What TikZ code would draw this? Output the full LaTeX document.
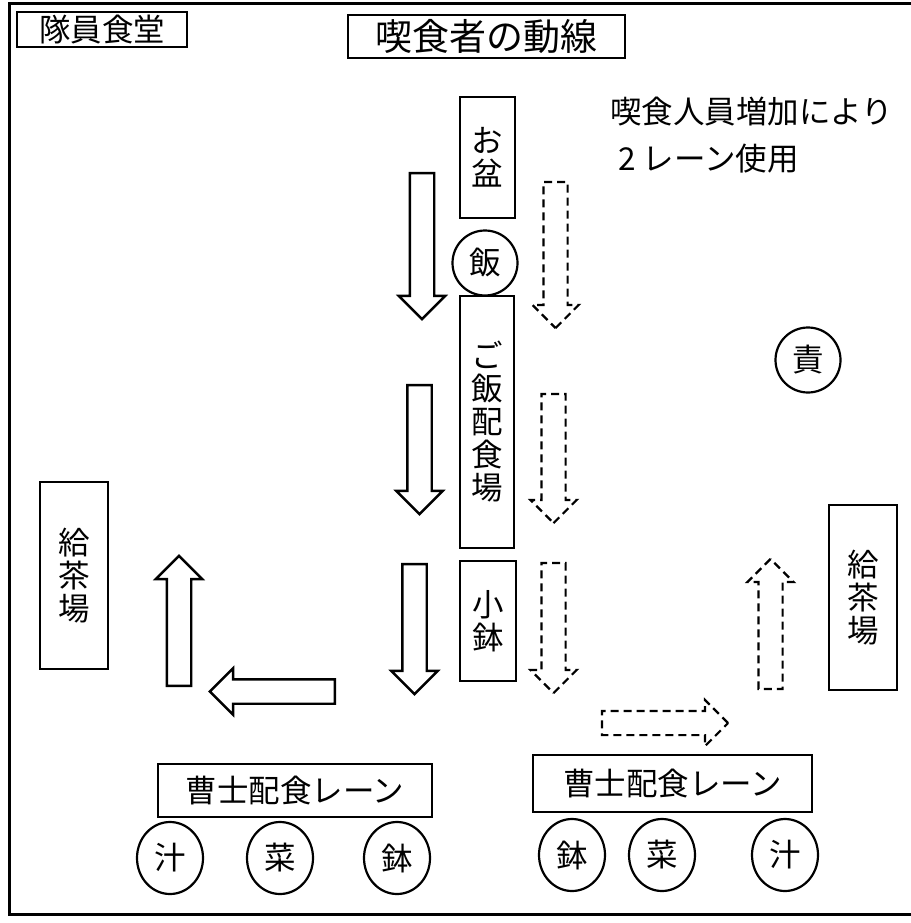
\documentclass[tikz,border=0pt]{standalone}
\usepackage{fontspec}
\setmainfont{Noto Sans CJK JP}
\usetikzlibrary{shapes.geometric,shapes.arrows}
\tikzstyle{labelbox}=[draw,rectangle,inner sep=0pt,line width=2.2pt,font=\fontsize{31.5}{33}\selectfont]
\tikzstyle{standbox}=[labelbox,align=center]
\tikzstyle{dish}=[draw,circle,inner sep=0pt,minimum size=65pt,line width=2.2pt,font=\fontsize{31.5}{33}\selectfont]
\tikzstyle{bowl}=[draw,ellipse,inner sep=0pt,minimum width=66pt,minimum height=72pt,line width=2.2pt,font=\fontsize{31.5}{33}\selectfont]
\tikzstyle{flow}=[single arrow,draw,fill=white,inner xsep=0pt,inner ysep=11pt,
  single arrow head extend=11pt,single arrow tip angle=90,minimum width=44pt,line width=2.4pt]
\tikzstyle{flow2}=[flow,line width=2.2pt,dash pattern=on 8pt off 5pt]

\begin{document}
\begin{tikzpicture}[x=1pt,y=-1pt]
\useasboundingbox (0,0) rectangle (910,923);
\draw[line width=3pt] (9,4) rectangle (940,914);
% titles
\node[labelbox,minimum width=170pt,minimum height=35pt] (hall) at (102,29.5) {隊員食堂};
\node[labelbox,minimum width=277pt,minimum height=43pt,font=\fontsize{37}{40}\selectfont] (title) at (486.5,36.5) {喫食者の動線\hspace{12pt}};
\node[align=left,anchor=north west,inner sep=0pt,font=\fontsize{31.5}{47}\selectfont] (note) at (610,97)
  {喫食人員増加により\\\hspace{8pt}2 レーン使用};
% serving stands
\foreach \place/\name/\w/\h/\txt in {{(487.5,157.5)/tray/55/121/お\\盆},
                                     {(487,422)/rice/54/252/ご\\飯\\配\\食\\場},
                                     {(488,621)/side/56/120/小\\鉢},
                                     {(74,575.5)/teaL/68/187/給\\茶\\場},
                                     {(863,597.5)/teaR/68/185/給\\茶\\場}}
  \node[standbox,minimum width=\w pt,minimum height=\h pt] (\name) at \place {\txt};
\node[labelbox,minimum width=274pt,minimum height=53pt] (laneL) at (295,790.5) {曹士配食レーン};
\node[labelbox,minimum width=279pt,minimum height=57pt] (laneR) at (672.5,783.5) {曹士配食レーン};
\node[dish] (meshi) at (485,263) {飯};
\node[dish] (chief) at (808,360) {責};
\foreach \place/\name/\txt in {{(170,858)/soupL/汁},
                               {(280,858)/mainL/菜},
                               {(397,858)/bowlL/鉢},
                               {(572,855)/bowlR/鉢},
                               {(662,855)/mainR/菜},
                               {(785,855)/soupR/汁}}
  \node[bowl] (\name) at \place {\txt};
% flow arrows
\foreach \place/\name/\len/\turn in {{(422,240)/downA/146/-90},
                                     {(419.5,443.5)/downB/129/-90},
                                     {(414.5,623)/downC/130/-90},
                                     {(278.5,691.5)/left/125/180},
                                     {(179,627)/up/130/90}}
  \node[flow,minimum height=\len pt,rotate=\turn] (\name) at \place {};
\foreach \place/\name/\len/\turn in {{(555.5,249)/downD/146/-90},
                                     {(553.5,452.5)/downE/129/-90},
                                     {(553.5,622)/downF/130/-90},
                                     {(659,723)/right/126/0},
                                     {(770.5,630)/upR/130/90}}
  \node[flow2,minimum height=\len pt,rotate=\turn] (\name) at \place {};
\end{tikzpicture}
\end{document}
